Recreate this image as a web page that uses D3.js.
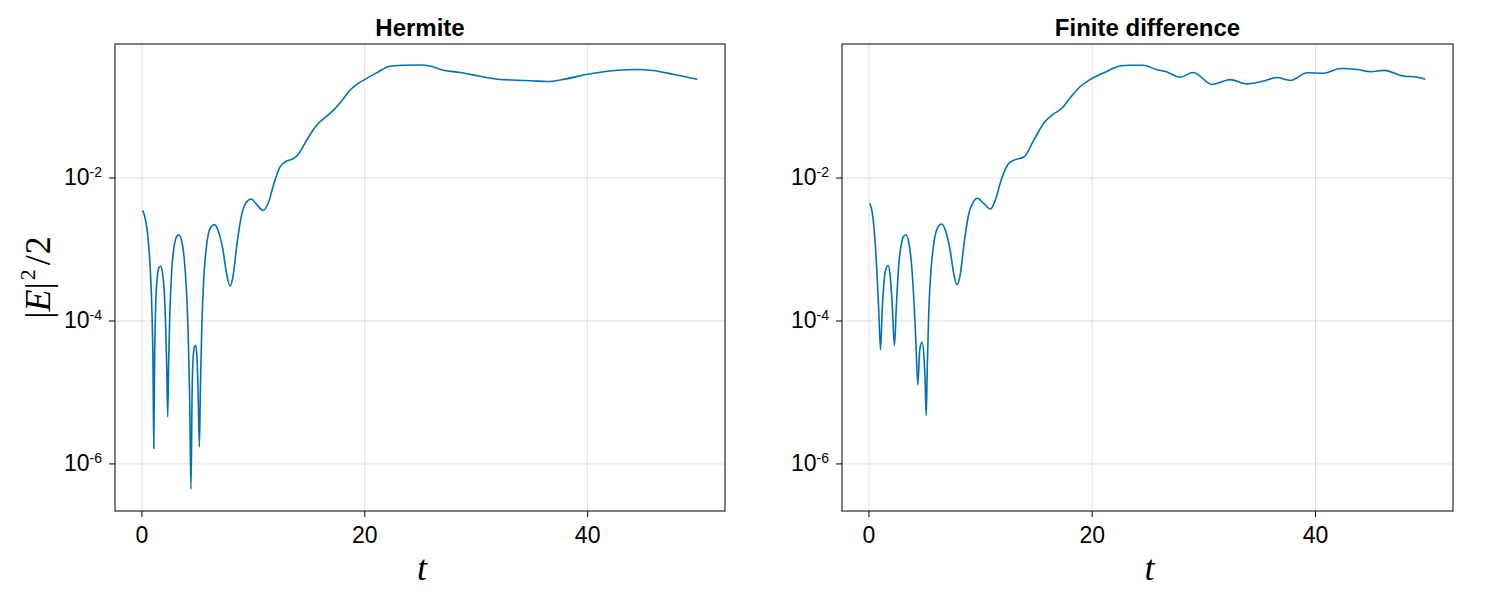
<!DOCTYPE html>
<html>
<head>
<meta charset="utf-8">
<script src="https://cdn.jsdelivr.net/npm/d3@7"></script>
<style>
  body { margin: 0; background: #fff; }
  text { font-family: "Liberation Sans", Arial, sans-serif; }
</style>
</head>
<body>
<div id="chart"></div>
<script>
// values
var tHermite = [0.12, 0.35, 0.6, 0.8, 0.95, 1.04, 1.11, 1.18, 1.28, 1.42, 1.58, 1.73, 1.88, 2.05, 2.18, 2.28, 2.36, 2.44, 2.55, 2.72,
  2.95, 3.15, 3.35, 3.6, 3.85, 4.05, 4.2, 4.32, 4.45, 4.55, 4.65, 4.78, 4.87, 4.98, 5.08, 5.2, 5.3, 5.42, 5.6, 5.85,
  6.15, 6.55, 6.9, 7.3, 7.65, 7.95, 8.2, 8.6, 9.0, 9.4, 9.87, 10.3, 10.94, 11.4, 11.9, 12.44, 13.03, 13.6, 14.1, 14.68,
  15.3, 15.87, 16.5, 17.22, 18.0, 18.71, 19.3, 19.91, 21.1, 22.3, 23.5, 25.0, 25.9, 27.1, 28.6, 30.4, 32.0, 33.7, 35.0, 36.4,
  38.1, 39.9, 41.8, 43.0, 44.4, 45.9, 47.7, 49.9];
var eHermite = [3.47e-3, 2.63e-3, 1.41e-3, 5.0e-4, 1.26e-4, 2.5e-5, 1.62e-6, 2.5e-5, 1.58e-4, 3.98e-4, 5.5e-4, 5.75e-4, 4.79e-4, 2.51e-4, 7.94e-5, 2.0e-5, 4.47e-6, 2.5e-5, 1.26e-4, 5.0e-4,
  1.12e-3, 1.48e-3, 1.58e-3, 1.32e-3, 7.08e-4, 2.51e-4, 6.31e-5, 1.0e-5, 4.37e-7, 1.0e-5, 3.16e-5, 4.37e-5, 4.47e-5, 3.16e-5, 1.12e-5, 1.70e-6, 1.26e-5, 7.94e-5, 3.98e-4, 1.12e-3,
  1.91e-3, 2.19e-3, 1.78e-3, 1.0e-3, 4.47e-4, 3.02e-4, 3.98e-4, 1.26e-3, 3.02e-3, 4.47e-3, 5.01e-3, 4.27e-3, 3.47e-3, 4.47e-3, 8.32e-3, 1.41e-2, 1.70e-2, 1.82e-2, 2.14e-2, 3.02e-2,
  4.37e-2, 5.69e-2, 6.92e-2, 8.71e-2, 0.120, 0.166, 0.200, 0.229, 0.291, 0.361, 0.372, 0.376, 0.363, 0.317, 0.295, 0.261, 0.237, 0.230, 0.226, 0.220,
  0.240, 0.276, 0.307, 0.320, 0.324, 0.314, 0.279, 0.237];

var tFinite = [0.12, 0.35, 0.55, 0.75, 0.92, 1.08, 1.22, 1.4, 1.58, 1.76, 1.95, 2.12, 2.33, 2.5, 2.7, 2.95, 3.15, 3.35, 3.6, 3.85,
  4.1, 4.25, 4.42, 4.6, 4.81, 4.97, 5.08, 5.17, 5.28, 5.4, 5.6, 5.85, 6.15, 6.55, 6.9, 7.3, 7.65, 7.92, 8.2, 8.6,
  9.0, 9.4, 9.78, 10.3, 10.94, 11.4, 11.9, 12.53, 13.0, 13.96, 14.8, 15.8, 16.5, 17.3, 18.1, 18.95, 19.85, 21.3, 22.5, 23.4,
  24.6, 25.8, 26.7, 27.9, 29.1, 30.8, 32.4, 33.9, 35.4, 36.6, 37.8, 39.3, 40.8, 42.3, 43.8, 45.0, 46.2, 48.0, 48.9, 49.9];
var eFinite = [4.37e-3, 3.16e-3, 1.58e-3, 5.0e-4, 1.41e-4, 3.89e-5, 1.26e-4, 3.55e-4, 5.37e-4, 5.89e-4, 4.17e-4, 1.78e-4, 4.47e-5, 1.58e-4, 5.62e-4, 1.17e-3, 1.51e-3, 1.58e-3, 1.26e-3, 6.31e-4,
  1.58e-4, 5.01e-5, 1.26e-5, 3.98e-5, 5.01e-5, 3.16e-5, 1.41e-5, 4.68e-6, 2.51e-5, 1.26e-4, 5.0e-4, 1.17e-3, 1.91e-3, 2.24e-3, 1.82e-3, 1.0e-3, 4.47e-4, 3.16e-4, 4.17e-4, 1.32e-3,
  3.16e-3, 4.57e-3, 5.13e-3, 4.37e-3, 3.63e-3, 5.01e-3, 9.33e-3, 1.55e-2, 1.74e-2, 1.95e-2, 3.31e-2, 6.03e-2, 7.59e-2, 9.23e-2, 0.132, 0.186, 0.234, 0.302, 0.363, 0.372,
  0.372, 0.324, 0.302, 0.253, 0.295, 0.200, 0.234, 0.204, 0.224, 0.251, 0.229, 0.292, 0.288, 0.336, 0.324, 0.302, 0.316, 0.261, 0.257, 0.237];

var panelTitles = ["Hermite", "Finite difference"];
var xTicks = [0, 20, 40];
var yTicks = [1e-2, 1e-4, 1e-6];
var xDomain = [-2.37, 52.37];
var yDomain = [2.16e-7, 0.738];

function init(){

  var w = 1500;
  var h = 595;
  var top = 44;
  var bottom = 511;

  var svg = d3.select("#chart")
              .append("svg")
              .attr("width", w)
              .attr("height", h);

  var panels = [
    { left: 115, right: 725, title: panelTitles[0], t: tHermite, e: eHermite },
    { left: 842, right: 1453, title: panelTitles[1], t: tFinite, e: eFinite }
  ];

  // y axes are linked, so one scale
  var yScale = d3.scaleLog().domain(yDomain).range([bottom, top]);

  panels.forEach(function(p, i){

    var xScale = d3.scaleLinear().domain(xDomain).range([p.left, p.right]);
    var g = svg.append("g");

    // grid lines
    g.append("g")
      .attr("transform", "translate(0," + bottom + ")")
      .call(d3.axisBottom(xScale).tickValues(xTicks).tickSize(-(bottom - top)).tickFormat(""))
      .call(function(s){
        s.select(".domain").remove();
        s.selectAll("line").attr("stroke", "rgba(0,0,0,0.12)");
      });

    g.append("g")
      .attr("transform", "translate(" + p.left + ",0)")
      .call(d3.axisLeft(yScale).tickValues(yTicks).tickSize(-(p.right - p.left)).tickFormat(""))
      .call(function(s){
        s.select(".domain").remove();
        s.selectAll("line").attr("stroke", "rgba(0,0,0,0.12)");
      });

    // the curve
    var line = d3.line()
      .x(function(d, k){ return xScale(p.t[k]); })
      .y(function(d){ return yScale(d); })
      .curve(d3.curveMonotoneX);

    g.append("path")
      .datum(p.e)
      .attr("d", line)
      .attr("fill", "none")
      .attr("stroke", "#0072b2")
      .attr("stroke-width", 1.6);

    // frame
    g.append("rect")
      .attr("x", p.left)
      .attr("y", top)
      .attr("width", p.right - p.left)
      .attr("height", bottom - top)
      .attr("fill", "none")
      .attr("stroke", "#000")
      .attr("stroke-width", 1);

    // x axis
    var xAxis = g.append("g")
      .attr("transform", "translate(0," + bottom + ")")
      .call(d3.axisBottom(xScale).tickValues(xTicks).tickSize(6).tickPadding(10).tickFormat(d3.format("d")));
    xAxis.select(".domain").remove();
    xAxis.selectAll("text").attr("font-size", 23).attr("fill", "#000")
      .style("font-family", "'Liberation Sans', Arial, sans-serif");

    // y axis with 10^n labels
    var yAxis = g.append("g")
      .attr("transform", "translate(" + p.left + ",0)")
      .call(d3.axisLeft(yScale).tickValues(yTicks).tickSize(6).tickPadding(7));
    yAxis.select(".domain").remove();
    yAxis.selectAll(".tick text")
      .text(null)
      .attr("dy", "0.3em")
      .attr("font-size", 23)
      .attr("fill", "#000")
      .style("font-family", "'Liberation Sans', Arial, sans-serif")
      .each(function(d){
        var s = d3.select(this);
        s.append("tspan").text("10");
        s.append("tspan").attr("dy", -8).attr("font-size", 14).text(String(Math.round(Math.log10(d))));
      });

    // title
    svg.append("text")
      .attr("x", (p.left + p.right) / 2)
      .attr("y", 36)
      .attr("text-anchor", "middle")
      .attr("font-size", 24)
      .attr("font-weight", "bold")
      .text(p.title);

    // x label
    svg.append("text")
      .attr("x", (p.left + p.right) / 2 + 2)
      .attr("y", 580)
      .attr("text-anchor", "middle")
      .attr("font-size", 36)
      .attr("font-style", "italic")
      .style("font-family", "'Liberation Serif', 'DejaVu Serif', serif")
      .text("t");
  });

  // y label |E|^2/2
  var yl = svg.append("text")
    .attr("transform", "translate(50," + (top + bottom) / 2 + ") rotate(-90)")
    .attr("text-anchor", "middle")
    .attr("font-size", 36)
    .style("font-family", "'Liberation Serif', 'DejaVu Serif', serif");
  yl.append("tspan").text("|");
  yl.append("tspan").attr("font-style", "italic").text("E");
  yl.append("tspan").text("|");
  yl.append("tspan").attr("dy", -15).attr("dx", 2).attr("font-size", 22).text("2");
  yl.append("tspan").attr("dy", 15).attr("dx", 4).text("/");
  yl.append("tspan").attr("dx", 1).text("2");
}

window.onload = init;
</script>
</body>
</html>
